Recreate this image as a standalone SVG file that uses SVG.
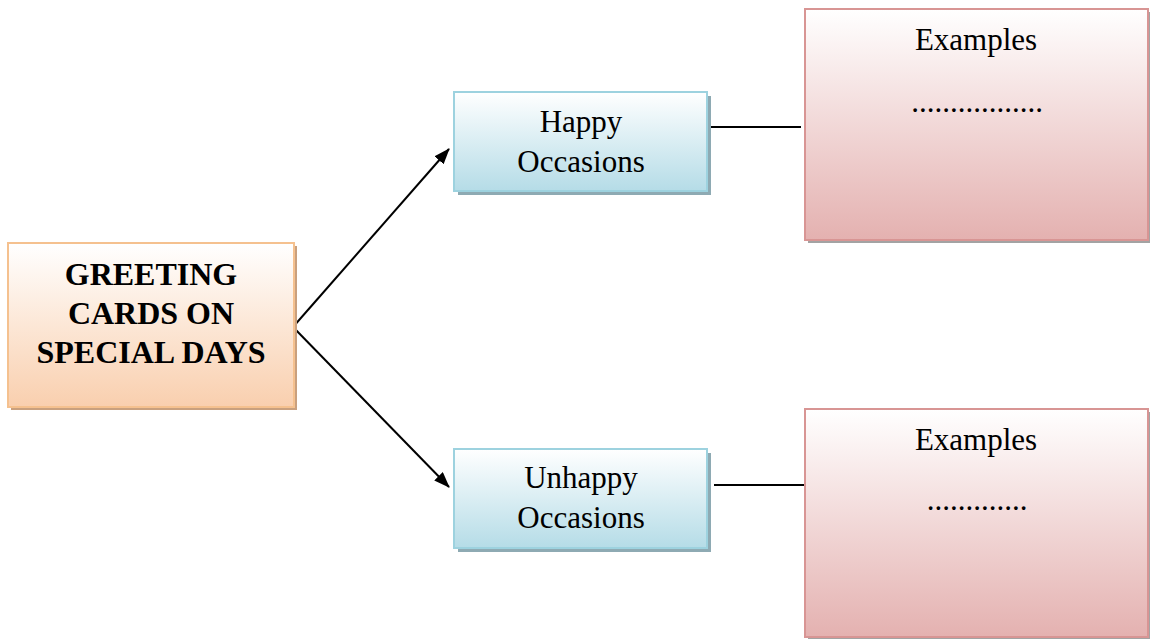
<svg xmlns="http://www.w3.org/2000/svg" width="1150" height="639" viewBox="0 0 1150 639">
<style>
.t{font-family:"Liberation Serif","Times New Roman",serif;fill:#000;text-anchor:middle}
.b{font-weight:bold;font-size:32px}
.r{font-size:31px}
.c{stroke:#000;stroke-width:2;fill:none}
</style>
<defs>
<linearGradient id="gMain" x1="0" y1="0" x2="0" y2="1"><stop offset="0" stop-color="#ffffff"/><stop offset="1" stop-color="#f9cfae"/></linearGradient>
<linearGradient id="gBlue" x1="0" y1="0" x2="0" y2="1"><stop offset="0" stop-color="#ffffff"/><stop offset="1" stop-color="#b5dce7"/></linearGradient>
<linearGradient id="gPink" x1="0" y1="0" x2="0" y2="1"><stop offset="0" stop-color="#ffffff"/><stop offset="1" stop-color="#e4b1b0"/></linearGradient>
<marker id="arr" viewBox="0 0 16 12" refX="15" refY="6" markerWidth="16" markerHeight="12" markerUnits="userSpaceOnUse" orient="auto"><path d="M0,0 L16,6 L0,12 z" fill="#000"/></marker>
</defs>
<g id="connectors">
<line class="c" x1="293" y1="327" x2="449" y2="149" marker-end="url(#arr)"/>
<line class="c" x1="293" y1="327" x2="449" y2="487" marker-end="url(#arr)"/>
<line class="c" x1="709" y1="127" x2="801" y2="127"/>
<line class="c" x1="714" y1="485" x2="805" y2="485"/>
</g>
<g id="main">
<rect x="11" y="246" width="286" height="164" fill="#c9a07e"/>
<rect x="8" y="243" width="286" height="164" fill="url(#gMain)" stroke="#f5c18f" stroke-width="2"/>
<text class="t b" x="151" y="285">GREETING</text>
<text class="t b" x="151" y="324">CARDS ON</text>
<text class="t b" x="151" y="363">SPECIAL DAYS</text>
</g>
<g id="happy">
<rect x="458" y="96" width="253" height="99" fill="#8eaab3"/>
<rect x="454" y="92" width="253" height="99" fill="url(#gBlue)" stroke="#9dd2df" stroke-width="2"/>
<text class="t r" x="581" y="132">Happy</text>
<text class="t r" x="581" y="172">Occasions</text>
</g>
<g id="unhappy">
<rect x="458" y="453" width="253" height="99" fill="#8eaab3"/>
<rect x="454" y="449" width="253" height="99" fill="url(#gBlue)" stroke="#9dd2df" stroke-width="2"/>
<text class="t r" x="581" y="488">Unhappy</text>
<text class="t r" x="581" y="528">Occasions</text>
</g>
<g id="examples1">
<rect x="808" y="12" width="343" height="231" fill="#a3a3a3"/>
<rect x="805" y="9" width="343" height="231" fill="url(#gPink)" stroke="#d89594" stroke-width="2"/>
<text class="t r" x="976" y="50">Examples</text>
<text class="t r" x="977" y="112">.................</text>
</g>
<g id="examples2">
<rect x="808" y="412" width="343" height="228" fill="#a3a3a3"/>
<rect x="805" y="409" width="343" height="228" fill="url(#gPink)" stroke="#d89594" stroke-width="2"/>
<text class="t r" x="976" y="450">Examples</text>
<text class="t r" x="977" y="510">.............</text>
</g>
</svg>
